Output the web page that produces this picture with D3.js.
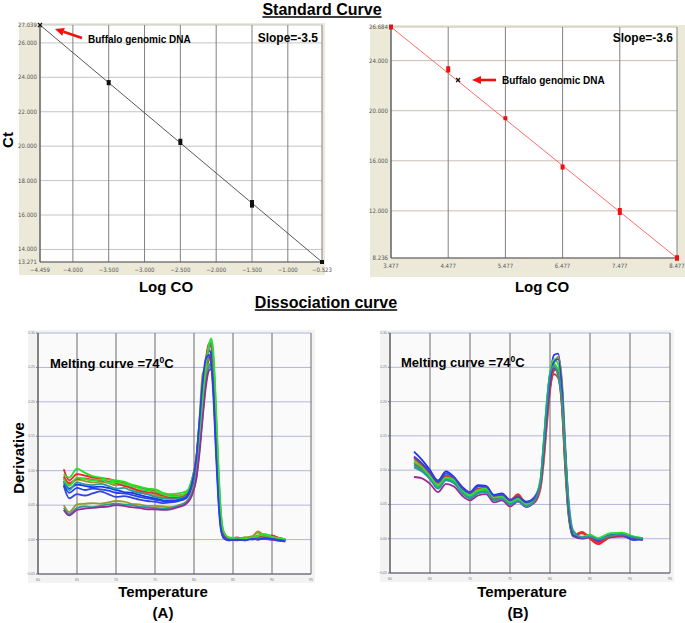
<!DOCTYPE html>
<html>
<head>
<meta charset="utf-8">
<script src="https://cdn.jsdelivr.net/npm/d3@7"></script>
<style>
body{margin:0;background:#fff;}
svg{display:block;font-family:"Liberation Sans",Arial,sans-serif;}
</style>
</head>
<body>
<div id="fig"></div>
<script>
// curva padrao esquerda - standard curve, left panel
var stdA_logco = [-4.459, -3.5, -2.5, -1.5, -0.523];
var stdA_ct = [27.039, 23.69, 20.25, 16.65, 13.271];
var stdA_err = [0, 0.15, 0.18, 0.22, 0.1];
var stdA_xticks = [-4.459, -4, -3.5, -3, -2.5, -2, -1.5, -1, -0.523];
var stdA_yticks = [13.271, 14, 16, 18, 20, 22, 24, 26, 27.039];

// curva padrao direita - standard curve, right panel
var stdB_logco = [3.477, 4.477, 5.477, 6.477, 7.477, 8.477];
var stdB_ct = [26.684, 23.3, 19.4, 15.5, 11.95, 8.236];
var stdB_err = [0.2, 0.25, 0.15, 0.2, 0.28, 0.22];
var stdB_xticks = [3.477, 4.477, 5.477, 6.477, 7.477, 8.477];
var stdB_yticks = [8.236, 12, 16, 20, 24, 26.684];
var buffaloB = [4.65, 22.45];

// dissociation curves - ticks
var dissXTicks = [60, 65, 70, 75, 80, 85, 90, 95];
var dissYTicks = [-0.05, 0, 0.05, 0.10, 0.15, 0.20, 0.25, 0.30];

// (A) temperatures and curves
var tempA = [63.3, 64, 65, 66, 67, 68, 69, 70, 71, 72, 73, 74, 75, 76, 77, 78, 79, 79.7, 80.3, 80.7, 81.1, 81.5, 81.9, 82.2, 82.5, 82.8, 83.1, 83.4, 83.8, 84.5, 85.5, 86.5, 87.5, 88.2, 89, 90, 91, 91.7];
var colorsA = ['#ee2222', '#22e022', '#2233ee', '#3344dd', '#9a9a2a', '#2a9a9a', '#e03030', '#9a9a2a', '#2a9a9a', '#9a2a9a', '#33dd33', '#2244ee'];
var curvesA = [
  [.102, .086, .095, .093, .090, .089, .088, .085, .082, .078, .076, .073, .070, .066, .064, .064, .067, .085, .120, .170, .220, .260, .285, .280, .235, .160, .085, .030, .005, .000, .002, -.001, .003, .004, .002, .004, .001, -.001],
  [.095, .090, .103, .097, .092, .090, .087, .086, .084, .080, .077, .074, .073, .068, .066, .067, .070, .080, .105, .150, .205, .250, .280, .290, .260, .190, .110, .045, .010, .002, .000, .003, .002, .006, .008, .005, .002, .000],
  [.085, .074, .080, .078, .076, .077, .075, .072, .069, .068, .065, .062, .060, .057, .056, .058, .063, .078, .110, .160, .215, .255, .275, .268, .220, .140, .070, .022, .003, -.001, .001, .000, .002, .001, .003, .002, .000, -.002],
  [.078, .060, .066, .064, .067, .070, .066, .062, .063, .061, .058, .056, .055, .053, .054, .056, .060, .075, .100, .140, .190, .235, .262, .270, .240, .170, .090, .030, .006, .000, .000, .002, .000, .002, .001, .000, -.001, -.002],
  [.090, .080, .087, .085, .083, .084, .082, .079, .080, .074, .070, .066, .064, .062, .060, .061, .065, .082, .115, .175, .240, .250, .262, .258, .215, .150, .080, .030, .008, .002, .001, .000, .004, .012, .006, .004, .001, .000],
  [.083, .072, .083, .080, .079, .081, .078, .074, .075, .071, .068, .066, .062, .060, .059, .060, .064, .079, .108, .150, .200, .245, .278, .286, .255, .180, .100, .040, .010, .001, .000, .001, .002, .003, .004, .002, .000, -.001],
  [.092, .082, .088, .089, .087, .086, .084, .082, .078, .075, .071, .069, .067, .064, .061, .062, .066, .084, .118, .165, .212, .248, .268, .262, .225, .150, .075, .025, .004, .001, .003, .001, .003, .005, .003, .006, .002, .000],
  [.050, .040, .051, .052, .053, .052, .054, .056, .055, .052, .051, .049, .049, .048, .047, .050, .055, .068, .095, .140, .200, .240, .255, .250, .215, .150, .080, .028, .006, .002, .001, .003, .005, .010, .005, .003, .001, .000],
  [.046, .037, .046, .048, .047, .049, .051, .052, .051, .050, .048, .047, .046, .045, .046, .049, .054, .066, .090, .130, .180, .225, .250, .255, .228, .165, .090, .035, .008, .001, .000, .001, .001, .002, .003, .001, .000, -.001],
  [.043, .035, .043, .045, .046, .047, .048, .050, .049, .047, .046, .044, .044, .043, .044, .047, .052, .063, .088, .125, .175, .220, .245, .248, .225, .160, .085, .030, .005, .000, -.001, .000, .001, .000, .001, .000, -.002, -.003],
  [.088, .078, .090, .088, .086, .087, .083, .083, .081, .078, .074, .071, .070, .066, .063, .063, .068, .086, .115, .155, .205, .250, .282, .292, .270, .200, .115, .048, .012, .003, .002, .001, .003, .005, .008, .004, .002, .000],
  [.080, .068, .075, .072, .074, .073, .071, .068, .067, .065, .062, .060, .058, .056, .055, .057, .062, .080, .118, .172, .228, .262, .268, .255, .205, .130, .062, .018, .002, -.001, .000, -.001, .001, .000, .002, .001, -.001, -.002]
];

// (B) temperatures and curves
var tempB = [63, 64, 65, 66, 67, 68, 69, 70, 71, 72, 73, 74, 75, 76, 77, 78, 78.8, 79.2, 79.6, 80, 80.5, 81, 81.5, 81.9, 82.3, 82.9, 84, 85, 86, 87.5, 89, 90.5, 91.6];
var colorsB = ['#2233ee', '#ee2222', '#22e022', '#9a9a2a', '#2a9a9a', '#9a2a9a', '#e03030', '#33dd33', '#3344dd', '#2a9a9a'];
var curvesB = [
  [.127, .115, .100, .085, .098, .090, .076, .068, .078, .077, .064, .066, .057, .062, .054, .060, .082, .128, .185, .235, .268, .270, .222, .130, .050, .006, .002, .004, -.002, .006, .005, -.002, .000],
  [.110, .102, .090, .077, .088, .083, .069, .060, .068, .070, .058, .060, .051, .063, .048, .052, .072, .110, .165, .215, .245, .248, .205, .120, .045, .005, .010, .000, -.008, .002, .004, .001, -.001],
  [.105, .100, .088, .075, .087, .084, .068, .062, .069, .071, .060, .062, .054, .057, .051, .057, .085, .140, .200, .240, .255, .245, .190, .100, .035, .003, .002, .006, .000, .007, .008, .003, .001],
  [.115, .106, .094, .080, .091, .087, .072, .065, .072, .074, .061, .063, .053, .059, .050, .055, .075, .115, .172, .222, .255, .265, .230, .140, .055, .008, .001, .003, -.003, .003, .006, .001, -.001],
  [.108, .100, .089, .074, .086, .082, .067, .060, .067, .069, .056, .059, .050, .056, .048, .055, .082, .135, .195, .238, .250, .240, .205, .125, .052, .010, .002, .004, -.002, .004, .007, .002, .000],
  [.090, .088, .080, .068, .080, .076, .063, .056, .063, .065, .053, .056, .047, .054, .046, .053, .078, .125, .182, .228, .248, .242, .195, .110, .040, .004, .000, .002, -.004, .002, .003, .000, -.002],
  [.118, .108, .095, .082, .092, .088, .074, .066, .073, .073, .062, .064, .056, .065, .052, .058, .078, .120, .175, .220, .240, .235, .190, .105, .038, .004, .008, .002, -.006, .003, .005, .002, .000],
  [.112, .104, .091, .078, .089, .086, .071, .064, .071, .073, .060, .061, .053, .058, .051, .058, .086, .138, .198, .242, .262, .255, .210, .120, .045, .006, .003, .005, .001, .008, .009, .003, .001],
  [.120, .110, .097, .083, .095, .089, .074, .067, .076, .076, .063, .065, .056, .061, .053, .059, .080, .125, .180, .228, .258, .262, .218, .128, .048, .005, .001, .003, -.002, .005, .006, -.001, -.001],
  [.104, .098, .087, .073, .085, .081, .067, .059, .066, .068, .057, .058, .050, .055, .047, .054, .083, .135, .195, .240, .252, .238, .200, .130, .060, .012, .002, .003, -.001, .004, .006, .002, .000]
];

var svg = d3.select('#fig')
  .append('svg')
  .attr('width', 685)
  .attr('height', 623);

var fmt3 = d3.format('.3f');
var fmt2 = d3.format('.2f');

// titulo sublinhado - underlined heading
function heading(txt, cx, y) {
  var t = svg.append('text')
    .text(txt)
    .attr('x', cx)
    .attr('y', y)
    .attr('text-anchor', 'middle')
    .attr('font-size', '16px')
    .attr('font-weight', 'bold');
  var w = t.node().getComputedTextLength();
  svg.append('line')
    .attr('x1', cx - w / 2).attr('x2', cx + w / 2)
    .attr('y1', y + 2).attr('y2', y + 2)
    .attr('stroke', '#000').attr('stroke-width', 1.4);
}

function boldText(txt, x, y, size, anchor, rot) {
  return svg.append('text')
    .text(txt)
    .attr('transform', 'translate(' + x + ',' + y + ')' + (rot ? ' rotate(-90)' : ''))
    .attr('text-anchor', anchor || 'middle')
    .attr('font-size', size + 'px')
    .attr('font-weight', 'bold');
}

function redArrow(x1, y1, x2, y2) {
  // from (x1,y1) to tip (x2,y2)
  var a = Math.atan2(y2 - y1, x2 - x1), L = 9, W = 4;
  var bx = x2 - L * Math.cos(a), by = y2 - L * Math.sin(a);
  svg.append('line')
    .attr('x1', x1).attr('y1', y1).attr('x2', bx).attr('y2', by)
    .attr('stroke', '#ee1111').attr('stroke-width', 2.6);
  svg.append('path')
    .attr('d', 'M' + x2 + ',' + y2 +
      'L' + (bx + W * Math.sin(a)) + ',' + (by - W * Math.cos(a)) +
      'L' + (bx - W * Math.sin(a)) + ',' + (by + W * Math.cos(a)) + 'Z')
    .attr('fill', '#ee1111');
}

function xMark(g, cx, cy) {
  g.append('path')
    .attr('d', 'M' + (cx - 2) + ',' + (cy - 2) + 'L' + (cx + 2) + ',' + (cy + 2) +
      'M' + (cx - 2) + ',' + (cy + 2) + 'L' + (cx + 2) + ',' + (cy - 2))
    .attr('stroke', '#111').attr('stroke-width', 1.2);
}

// grafico da curva padrao - standard curve panel
function standardCurve(o) {
  var g = svg.append('g');
  var x = d3.scaleLinear().domain(d3.extent(o.xticks)).range([o.left, o.right]);
  var y = d3.scaleLinear().domain(d3.extent(o.yticks)).range([o.bottom, o.top]);

  g.append('rect')
    .attr('x', o.px0).attr('y', o.py0)
    .attr('width', o.px1 - o.px0).attr('height', o.py1 - o.py0)
    .attr('fill', '#ece9d8');
  g.append('rect')
    .attr('x', o.left).attr('y', o.top)
    .attr('width', o.right - o.left).attr('height', o.bottom - o.top)
    .attr('fill', '#fff');

  g.selectAll('.hg').data(o.yticks).enter().append('line')
    .attr('x1', o.left).attr('x2', o.right)
    .attr('y1', function(d){return y(d)}).attr('y2', function(d){return y(d)})
    .attr('stroke', o.hgrid).attr('stroke-width', 1);
  g.selectAll('.vg').data(o.xticks).enter().append('line')
    .attr('y1', o.top).attr('y2', o.bottom)
    .attr('x1', function(d){return x(d)}).attr('x2', function(d){return x(d)})
    .attr('stroke', '#808080').attr('stroke-width', 1);

  // eixos
  g.append('line').attr('x1', o.left).attr('x2', o.left).attr('y1', o.top).attr('y2', o.bottom)
    .attr('stroke', '#555').attr('stroke-width', 1);
  g.append('line').attr('x1', o.left).attr('x2', o.right).attr('y1', o.bottom).attr('y2', o.bottom)
    .attr('stroke', '#555').attr('stroke-width', 1);

  g.selectAll('.yl').data(o.yticks).enter().append('text')
    .text(function(d){return fmt3(d)})
    .attr('x', o.left - 3).attr('y', function(d){return y(d) + 2})
    .attr('text-anchor', 'end')
    .attr('font-size', '6px').attr('fill', '#555')
    .attr('font-family', '"Liberation Sans Narrow","DejaVu Sans Condensed",sans-serif');
  g.selectAll('.xl').data(o.xticks).enter().append('text')
    .text(function(d){return fmt3(d)})
    .attr('x', function(d){return x(d)}).attr('y', o.bottom + 10)
    .attr('text-anchor', 'middle')
    .attr('font-size', '6px').attr('fill', '#555')
    .attr('font-family', '"Liberation Sans Narrow","DejaVu Sans Condensed",sans-serif');

  // linha ajustada - fitted line through first and last standard
  var n = o.xs.length - 1;
  g.append('line')
    .attr('x1', x(o.xs[0])).attr('y1', y(o.cts[0]))
    .attr('x2', x(o.xs[n])).attr('y2', y(o.cts[n]))
    .attr('stroke', o.lineColor).attr('stroke-width', 0.9);

  g.selectAll('.pt').data(d3.range(o.xs.length).filter(function(i){return !(o.skipFirst && i === 0)})).enter().append('rect')
    .attr('x', function(i){return x(o.xs[i]) - 2})
    .attr('y', function(i){return Math.min(y(o.cts[i] + o.err[i]), y(o.cts[i]) - 2)})
    .attr('width', 4)
    .attr('height', function(i){return Math.max(y(o.cts[i] - o.err[i]) - y(o.cts[i] + o.err[i]), 4)})
    .attr('fill', o.pointColor);

  return {g: g, x: x, y: y};
}

heading('Standard Curve', 322, 15);

var left = standardCurve({
  px0: 19, py0: 23, px1: 325, py1: 275,
  left: 40, right: 322, top: 25, bottom: 262,
  xticks: stdA_xticks, yticks: stdA_yticks,
  xs: stdA_logco, cts: stdA_ct, err: stdA_err,
  hgrid: '#c4c4c4', lineColor: '#444', pointColor: '#111', skipFirst: true
});
xMark(left.g, left.x(stdA_logco[0]), left.y(stdA_ct[0]));

var right = standardCurve({
  px0: 370, py0: 25, px1: 685, py1: 277,
  left: 391, right: 677, top: 27, bottom: 258,
  xticks: stdB_xticks, yticks: stdB_yticks,
  xs: stdB_logco, cts: stdB_ct, err: stdB_err,
  hgrid: '#c8beb8', lineColor: '#ff5a5a', pointColor: '#ee1111', skipFirst: false
});
xMark(right.g, right.x(buffaloB[0]), right.y(buffaloB[1]));

boldText('Ct', 13, 140, 15, 'middle', true);
boldText('Log CO', 166, 292, 15);
boldText('Log CO', 542, 292, 15);

boldText('Buffalo genomic DNA', 88, 43, 10, 'start');
boldText('Slope=-3.5', 318, 42, 12, 'end');
redArrow(82, 38, 55, 29);

boldText('Buffalo genomic DNA', 502, 84, 10, 'start');
boldText('Slope=-3.6', 673, 42, 12, 'end');
redArrow(496, 80, 472, 80);

// curvas de dissociacao - melting curves
heading('Dissociation curve', 326, 308);

function dissociation(o) {
  var g = svg.append('g');
  var x = d3.scaleLinear().domain(d3.extent(dissXTicks)).range([o.left, o.right]);
  var y = d3.scaleLinear().domain(d3.extent(dissYTicks)).range([o.bottom, o.top]);

  g.append('rect')
    .attr('x', o.left - 10).attr('y', o.top - 3)
    .attr('width', o.right - o.left + 14).attr('height', o.bottom - o.top + 12)
    .attr('fill', '#f3f3f3');
  g.append('rect')
    .attr('x', o.left).attr('y', o.top)
    .attr('width', o.right - o.left).attr('height', o.bottom - o.top)
    .attr('fill', '#fafafa');

  g.selectAll('.hg').data(dissYTicks).enter().append('line')
    .attr('x1', o.left).attr('x2', o.right)
    .attr('y1', function(d){return y(d)}).attr('y2', function(d){return y(d)})
    .attr('stroke', '#b4b4dc').attr('stroke-width', 1);
  g.selectAll('.vg').data(dissXTicks).enter().append('line')
    .attr('y1', o.top).attr('y2', o.bottom)
    .attr('x1', function(d){return x(d)}).attr('x2', function(d){return x(d)})
    .attr('stroke', '#6a6a6a').attr('stroke-width', 1);
  g.append('line').attr('x1', o.left).attr('x2', o.right).attr('y1', o.bottom).attr('y2', o.bottom)
    .attr('stroke', '#555').attr('stroke-width', 1);
  g.append('line').attr('x1', o.left).attr('x2', o.left).attr('y1', o.top).attr('y2', o.bottom)
    .attr('stroke', '#555').attr('stroke-width', 1);

  g.selectAll('.yt').data(dissYTicks).enter().append('line')
    .attr('x1', o.left - 2).attr('x2', o.left)
    .attr('y1', function(d){return y(d)}).attr('y2', function(d){return y(d)})
    .attr('stroke', '#777');
  g.selectAll('.yl').data(dissYTicks).enter().append('text')
    .text(function(d){return fmt2(d)})
    .attr('x', o.left - 3).attr('y', function(d){return y(d) + 1})
    .attr('text-anchor', 'end').attr('font-size', '3.5px').attr('fill', '#777');
  g.selectAll('.xl').data(dissXTicks).enter().append('text')
    .text(function(d){return d})
    .attr('x', function(d){return x(d)}).attr('y', o.bottom + 7)
    .attr('text-anchor', 'middle').attr('font-size', '3.5px').attr('fill', '#777');

  var line = d3.line()
    .x(function(d){return x(d[0])})
    .y(function(d){return y(d[1])})
    .curve(d3.curveMonotoneX);

  g.selectAll('.curve').data(o.curves).enter().append('path')
    .attr('d', function(c){return line(d3.zip(o.temps, c))})
    .attr('fill', 'none')
    .attr('stroke', function(c, i){return o.colors[i % o.colors.length]})
    .attr('stroke-width', 1.8)
    .attr('stroke-linejoin', 'round');

  var t = svg.append('text')
    .attr('x', o.labelX).attr('y', o.labelY)
    .attr('font-size', '13px').attr('font-weight', 'bold');
  t.append('tspan').text('Melting curve =74');
  t.append('tspan').text('0').attr('font-size', '8.5px').attr('dy', -5);
  t.append('tspan').text('C').attr('dy', 5);
}

dissociation({left: 38, right: 311, top: 333, bottom: 574, temps: tempA, curves: curvesA, colors: colorsA, labelX: 50, labelY: 368});
dissociation({left: 390, right: 670, top: 333, bottom: 573, temps: tempB, curves: curvesB, colors: colorsB, labelX: 401, labelY: 367});

boldText('Derivative', 24, 458, 15, 'middle', true);
boldText('Temperature', 163, 597, 15);
boldText('Temperature', 522, 597, 15);
boldText('(A)', 163, 618, 15);
boldText('(B)', 518, 618, 15);
</script>
</body>
</html>
